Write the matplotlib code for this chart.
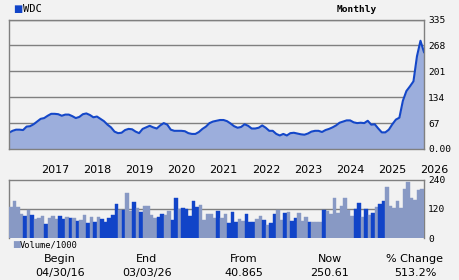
import matplotlib
matplotlib.use("Agg")
import matplotlib.pyplot as plt
import numpy as np

BG = "#f2f2f2"
GRID = "#808080"
LINE = "#1447c8"
FILL = "#9caedc"
VOL_UP = "#8899c4"
VOL_DN = "#1144c8"

# monthly close, WDC
price = [42, 47, 50, 50, 49, 58, 59, 64, 71, 78, 80, 86, 91, 91, 90, 86, 89, 89, 85, 80,
         83, 90, 92, 88, 82, 84, 78, 72, 63, 56, 45, 41, 42, 49, 52, 51, 45, 41, 52, 56,
         60, 56, 53, 61, 67, 63, 50, 47, 47, 47, 46, 41, 39, 39, 44, 52, 58, 67, 71, 73,
         75, 75, 72, 66, 59, 55, 57, 64, 60, 53, 53, 55, 61, 55, 47, 47, 39, 35, 39, 35,
         41, 42, 40, 38, 37, 40, 45, 47, 47, 44, 49, 52, 56, 61, 68, 71, 74, 74, 69, 67,
         68, 67, 73, 63, 64, 53, 43, 43, 50, 64, 76, 81, 125, 150, 162, 175, 240, 280, 250.61]

# monthly volume / 1000 and whether the month closed up (1) or down (0)
volume = [128, 152, 128, 100, 92, 116, 96, 79, 84, 92, 59, 84, 92, 77, 92, 79, 88, 84, 84, 71,
          75, 96, 63, 88, 67, 88, 79, 67, 84, 96, 140, 116, 116, 185, 109, 148, 124, 108, 132, 132,
          96, 84, 88, 100, 96, 112, 75, 164, 121, 124, 120, 92, 152, 128, 136, 75, 98, 100, 83, 111,
          83, 100, 62, 107, 66, 79, 70, 99, 66, 66, 79, 91, 75, 54, 62, 99, 115, 75, 103, 107,
          71, 83, 103, 71, 87, 66, 66, 64, 66, 115, 111, 98, 164, 102, 132, 164, 115, 91, 121, 144,
          87, 117, 95, 103, 127, 140, 152, 209, 132, 123, 153, 123, 201, 229, 164, 157, 197, 201]
up = [1, 1, 1, 1, 0, 1, 0, 1, 1, 1, 0, 1, 1, 1, 0, 0, 1, 0, 1, 0,
      1, 1, 0, 1, 0, 1, 0, 0, 0, 0, 0, 1, 0, 1, 1, 0, 1, 0, 1, 1,
      1, 1, 0, 0, 1, 1, 0, 0, 1, 0, 0, 0, 0, 0, 1, 1, 1, 1, 1, 0,
      1, 1, 0, 0, 0, 1, 1, 0, 0, 0, 1, 1, 0, 1, 0, 0, 1, 1, 0, 1,
      0, 0, 1, 1, 1, 0, 1, 1, 1, 0, 1, 1, 1, 1, 1, 1, 1, 1, 0, 0,
      1, 0, 1, 0, 1, 0, 0, 1, 1, 1, 1, 1, 1, 1, 1, 1, 1, 1]

years = [2017, 2018, 2019, 2020, 2021, 2022, 2023, 2024, 2025, 2026]
price_ticks = [0, 67, 134, 201, 268, 335]
price_labels = ["0.00", "67", "134", "201", "268", "335"]
vol_ticks = [0, 120, 240]

stat_names = ["Begin", "End", "From", "Now", "% Change"]
stat_values = ["04/30/16", "03/03/26", "40.865", "250.61", "513.2%"]
stat_x = [60, 147, 244, 330, 415]

n = len(volume)
fig = plt.figure(figsize=(4.6, 2.8), dpi=100)
fig.patch.set_facecolor(BG)
W, H = 460, 280


def box(l, t, r, b):
    return [l / W, 1 - b / H, (r - l) / W, (b - t) / H]


mono = "DejaVu Sans Mono"

# price panel
ax = fig.add_axes(box(9, 19.5, 424, 149))
ax.set_facecolor(BG)
px = np.linspace(-0.5, n - 0.5, len(price))
ax.fill_between(px, price, 0, color=FILL, lw=0, zorder=2)
ax.plot(px, price, color=LINE, lw=1.5, zorder=3)
ax.set_xlim(-0.5, n - 0.5)
ax.set_ylim(0, 335)
ax.set_yticks(price_ticks)
ax.set_yticklabels(price_labels, family=mono, fontsize=6.8)
ax.yaxis.tick_right()
ax.tick_params(axis="y", length=0, pad=3)
ax.set_xticks([])
ax.grid(axis="y", color=GRID, lw=1, zorder=1)
ax.set_axisbelow(True)
for s in ax.spines.values():
    s.set_color(GRID)
    s.set_linewidth(1)
    s.set_zorder(4)

# year labels at January of each year (month 0 = April 2016)
for y in years:
    i = (y - 2016) * 12 - 3
    ax.text(i - 0.5, -0.165, str(y), transform=ax.get_xaxis_transform(),
            ha="left", va="center", fontsize=8)

# volume panel
av = fig.add_axes(box(9, 179.5, 424, 238))
av.set_facecolor(BG)
colors = [VOL_UP if u else VOL_DN for u in up]
av.bar(np.arange(n), volume, width=1.0, color=colors, edgecolor=colors, lw=0.3, zorder=3)
av.set_xlim(-0.5, n - 0.5)
av.set_ylim(0, 240)
av.set_yticks(vol_ticks)
av.set_yticklabels([str(v) for v in vol_ticks], family=mono, fontsize=6.8)
av.yaxis.tick_right()
av.tick_params(axis="y", length=0, pad=3)
av.set_xticks([])
av.axhline(120, color=GRID, lw=1, zorder=1)
for s in av.spines.values():
    s.set_color(GRID)
    s.set_linewidth(1)
av.spines["bottom"].set_visible(False)

# header
fig.text(13 / W, 1 - 9 / H, "\u25a0", color=VOL_DN, fontsize=7, va="center", ha="left")
fig.text(23 / W, 1 - 9 / H, "WDC", family=mono, fontsize=7.5, va="center", ha="left")
fig.text(357 / W, 1 - 9 / H, "Monthly", family=mono, fontsize=6.8, va="center", ha="center",
         weight="bold")

# volume legend
fig.text(12 / W, 1 - 245 / H, "\u25a0", color=VOL_UP, fontsize=6.5, va="center", ha="left")
fig.text(20 / W, 1 - 245 / H, "Volume/1000", family=mono, fontsize=6.3, va="center", ha="left")

# summary row
for name, val, x in zip(stat_names, stat_values, stat_x):
    fig.text(x / W, 1 - 259 / H, name, fontsize=8, ha="center", va="center")
    fig.text(x / W, 1 - 273 / H, val, fontsize=8, ha="center", va="center")

fig.savefig("out.png", dpi=100, facecolor=BG)
